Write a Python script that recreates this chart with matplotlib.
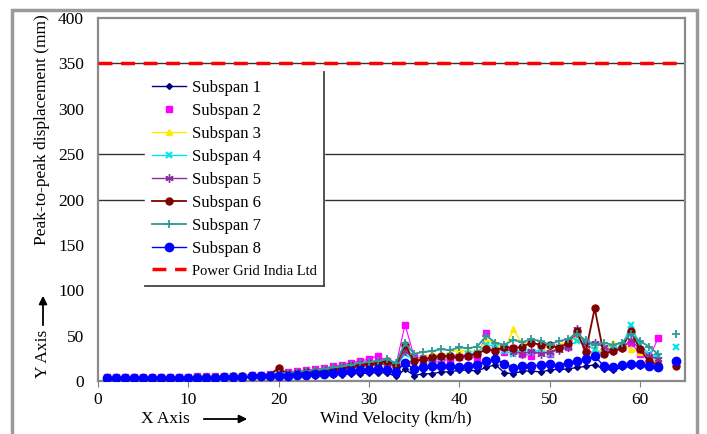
import matplotlib
matplotlib.use('Agg')
import matplotlib.pyplot as plt
import numpy as np
from matplotlib.lines import Line2D
from matplotlib.patches import Rectangle, FancyArrowPatch

plt.rcParams['font.family'] = ['Liberation Serif', 'DejaVu Serif']

wind = np.arange(1, 63)
wind_extra = 64

subspan_1 = [2, 2, 2, 2, 2, 2, 2, 2, 2, 2,
             3, 3, 3, 3, 3, 3, 4, 4, 4, 5,
             5, 6, 6, 6, 7, 7, 7, 8, 8, 9,
             9, 9, 5, 13, 6, 8, 8, 10, 10, 12,
             12, 11, 15, 18, 9, 8, 11, 11, 10, 12,
             13, 13, 15, 16, 18, 13, 12, 15, 16, 17,
             15, 14]
subspan_2 = [4, 4, 4, 4, 4, 4, 4, 4, 4, 4,
             5, 5, 5, 5, 6, 6, 7, 7, 8, 9,
             10, 11, 12, 13, 14, 16, 18, 20, 22, 24,
             28, 22, 18, 62, 27, 25, 20, 22, 24, 26,
             27, 25, 53, 38, 32, 36, 30, 28, 33, 30,
             38, 37, 52, 35, 30, 32, 35, 38, 42, 30,
             24, 47]
subspan_3 = [3, 3, 3, 3, 3, 3, 3, 3, 3, 3,
             4, 4, 4, 4, 5, 5, 5, 6, 6, 7,
             8, 9, 10, 11, 12, 13, 14, 15, 17, 18,
             20, 22, 17, 35, 24, 26, 30, 28, 32, 34,
             33, 32, 45, 42, 35, 57, 40, 44, 38, 36,
             40, 43, 48, 38, 36, 32, 42, 40, 35, 32,
             25, 22]
subspan_4 = [3, 3, 3, 3, 3, 3, 3, 3, 3, 3,
             4, 4, 4, 4, 5, 5, 5, 6, 6, 7,
             7, 8, 9, 10, 11, 12, 13, 15, 16, 17,
             18, 20, 15, 30, 22, 24, 22, 25, 28, 26,
             30, 31, 40, 38, 33, 30, 35, 32, 34, 30,
             36, 38, 44, 42, 34, 30, 35, 38, 62, 40,
             30, 26]
subspan_5 = [3, 3, 3, 3, 3, 3, 3, 3, 3, 3,
             4, 4, 4, 4, 4, 5, 5, 6, 6, 7,
             7, 8, 9, 10, 11, 12, 13, 14, 16, 17,
             18, 19, 16, 33, 24, 22, 24, 26, 28, 27,
             28, 30, 35, 34, 36, 32, 30, 33, 30, 32,
             34, 38, 57, 40, 42, 38, 33, 36, 45, 35,
             28, 24]
subspan_6 = [3, 3, 3, 3, 3, 3, 3, 3, 3, 3,
             4, 4, 4, 4, 5, 5, 5, 6, 7, 14,
             8, 9, 10, 10, 11, 12, 14, 16, 18, 19,
             20, 22, 17, 40, 22, 24, 26, 28, 27, 26,
             28, 30, 35, 33, 38, 36, 38, 42, 40, 40,
             36, 42, 55, 32, 80, 30, 33, 36, 55, 35,
             22, 18]
subspan_7 = [3, 3, 3, 3, 3, 3, 3, 3, 3, 3,
             4, 4, 4, 4, 5, 5, 6, 6, 7, 8,
             9, 10, 11, 12, 13, 15, 16, 18, 20, 21,
             22, 24, 20, 42, 30, 32, 33, 35, 34, 37,
             36, 38, 50, 42, 40, 45, 43, 46, 44, 40,
             44, 46, 52, 45, 40, 42, 40, 42, 52, 44,
             38, 30]
subspan_8 = [3, 3, 3, 3, 3, 3, 3, 3, 3, 3,
             3, 3, 3, 4, 4, 4, 5, 5, 6, 6,
             6, 7, 7, 8, 8, 9, 10, 11, 12, 12,
             13, 12, 10, 20, 13, 15, 16, 16, 17, 15,
             17, 18, 22, 24, 19, 14, 17, 16, 18, 19,
             17, 20, 22, 24, 27, 17, 15, 18, 19, 19,
             17, 15]

# lone points plotted at x = 64 (no line)
extra_points = {'Subspan 4': 38, 'Subspan 6': 17, 'Subspan 7': 52, 'Subspan 8': 22}

power_grid_limit = 350

series = [
    ('Subspan 1', subspan_1, dict(color='#000080', marker='D', ms=3, lw=1)),
    ('Subspan 2', subspan_2, dict(color='#FF00FF', marker='s', ms=5, lw=0.8)),
    ('Subspan 3', subspan_3, dict(color='#FFE800', marker='^', ms=5, lw=1)),
    ('Subspan 4', subspan_4, dict(color='#00E5EE', marker='x', ms=5, lw=1, mew=1.5)),
    ('Subspan 5', subspan_5, dict(color='#8B2F9E', marker=(6, 2, 0), ms=6, lw=1)),
    ('Subspan 6', subspan_6, dict(color='#800000', marker='o', ms=5, lw=1.3)),
    ('Subspan 7', subspan_7, dict(color='#2E9A96', marker='+', ms=6, lw=1.3, mew=1.3)),
    ('Subspan 8', subspan_8, dict(color='#0000FF', marker='o', ms=6, lw=1)),
]

fig = plt.figure(figsize=(7.07, 4.34), dpi=100)
ax = fig.add_axes([98 / 707, 1 - 381 / 434, 587 / 707, 363 / 434])

# outer frame
fig.patches.append(Rectangle((12 / 707, -0.05), 685 / 707, 1.05 - 10 / 434,
                             transform=fig.transFigure, fill=False,
                             edgecolor='#9a9a9a', lw=2.5))

for y in [200, 250, 350]:
    ax.axhline(y, color='#333333', lw=1, zorder=1)

handles = []
for name, vals, st in series:
    ax.plot(wind, vals, markeredgecolor=st['color'], zorder=3, **st)
    if name in extra_points:
        ax.plot([wind_extra], [extra_points[name]], linestyle='none',
                marker=st['marker'], ms=st['ms'], color=st['color'],
                mew=st.get('mew', 1), zorder=3)
    if name == 'Subspan 2':
        h = Line2D([], [], linestyle='none', marker='s', ms=5, color=st['color'])
    else:
        h = Line2D([], [], **st)
    handles.append((h, name))

ax.axhline(power_grid_limit, color='#FF0000', lw=2.5, dashes=(4, 2.5), zorder=4)
handles.append((Line2D([], [], color='#FF0000', lw=2.5, dashes=(4, 2.5)), 'Power Grid India Ltd'))

ax.set_xlim(0, 65)
ax.set_ylim(0, 400)
ax.set_xticks(np.arange(0, 61, 10))
ax.set_yticks(np.arange(0, 401, 50))
ax.tick_params(axis='both', labelsize=12.5, colors='black')
ax.tick_params(axis='y', length=0, pad=10)
ax.tick_params(axis='x', length=4, color='#7f7f7f', pad=4)
for sp in ax.spines.values():
    sp.set_color('#8a8a8a')
    sp.set_linewidth(1.6)

leg = ax.legend([h for h, n in handles], [n for h, n in handles],
                loc='upper left', bbox_to_anchor=(0.08, 0.851),
                borderaxespad=0, fontsize=12, labelspacing=0.42,
                handlelength=2.0, handletextpad=0.35, borderpad=0.45,
                frameon=True, fancybox=False, framealpha=1,
                facecolor='white', edgecolor='white')
leg.set_zorder(5)
leg.get_texts()[-1].set_fontsize(10.5)

fig.canvas.draw()
bb = leg.get_window_extent().transformed(fig.transFigure.inverted())
fig.add_artist(Line2D([bb.x1, bb.x1], [bb.y0, bb.y1], color='#444444', lw=1.3,
                      transform=fig.transFigure))
fig.add_artist(Line2D([bb.x0, bb.x1], [bb.y0, bb.y0], color='#444444', lw=1.3,
                      transform=fig.transFigure))

# axis titles
fig.text(42 / 707, 1 - 130 / 434, 'Peak-to-peak displacement (mm)', rotation=90,
         ha='center', va='center', fontsize=12.5)
fig.text(43 / 707, 1 - 354 / 434, 'Y Axis', rotation=90, ha='center',
         va='center', fontsize=12.5)
fig.add_artist(FancyArrowPatch(
    (43 / 707, 1 - 328 / 434), (43 / 707, 1 - 293 / 434),
    transform=fig.transFigure, arrowstyle='-|>', mutation_scale=12,
    color='black', lw=1.3))

fig.text(165 / 707, 1 - 419 / 434, 'X Axis', ha='center', va='center', fontsize=12.5)
fig.add_artist(FancyArrowPatch(
    (201 / 707, 1 - 419 / 434), (250 / 707, 1 - 419 / 434),
    transform=fig.transFigure, arrowstyle='-|>', mutation_scale=12,
    color='black', lw=1.3))
fig.text(396 / 707, 1 - 419 / 434, 'Wind Velocity (km/h)', ha='center',
         va='center', fontsize=12.5)

fig.savefig('out.png', dpi=100)
